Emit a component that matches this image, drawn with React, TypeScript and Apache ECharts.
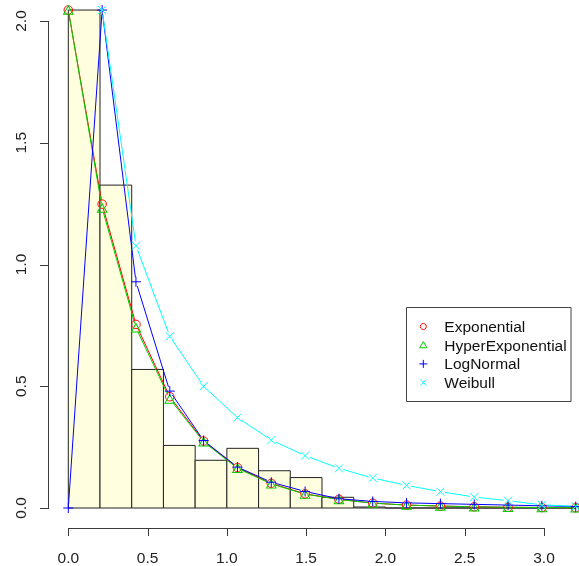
import React, { useEffect, useRef } from "react";
import * as echarts from "echarts";

// Histogram (density) bins of width 0.2
const binEdges = [0, 0.2, 0.4, 0.6, 0.8, 1.0, 1.2, 1.4, 1.6, 1.8, 2.0, 2.2, 2.4, 2.6, 2.8, 3.0, 3.2];
const binDensity = [2.045, 1.326, 0.569, 0.257, 0.196, 0.245, 0.153, 0.125, 0.044, 0.004, 0, 0, 0, 0, 0, 0];

// Fitted density curves evaluated at these x values
const xPoints = [0, 0.2133, 0.4267, 0.64, 0.8533, 1.0667, 1.28, 1.4933, 1.7067, 1.92, 2.1333, 2.3467, 2.56, 2.7733, 2.9867, 3.2];
const expDensity = [2.045, 1.248, 0.754, 0.457, 0.275, 0.166, 0.101, 0.058, 0.036, 0.02, 0.012, 0.008, 0.005, 0.003, 0.002, 0.001];
const hyperExpDensity = [2.045, 1.232, 0.74, 0.448, 0.272, 0.163, 0.099, 0.057, 0.035, 0.02, 0.012, 0.008, 0.005, 0.003, 0.002, 0.001];
const logNormalDensity = [0, 2.045, 0.929, 0.48, 0.277, 0.168, 0.106, 0.068, 0.038, 0.027, 0.021, 0.018, 0.015, 0.012, 0.009, 0.006];
const weibullDensity: (number | null)[] = [null, 2.045, 1.077, 0.705, 0.5, 0.371, 0.279, 0.215, 0.163, 0.123, 0.093, 0.067, 0.045, 0.03, 0.013, 0.007];

const seriesNames = ["Exponential", "HyperExponential", "LogNormal", "Weibull"];

const xTicks = { min: 0, max: 3, interval: 0.5 };
const yTicks = { min: 0, max: 2, interval: 0.5 };

const FONT = '"Liberation Sans", Arial, Helvetica, sans-serif';
const PLUS = "path://M5,0L5,10M0,5L10,5";
const CROSS = "path://M0,0L10,10M10,0L0,10";
const AXIS_COLOR = "#3a3a3a";
const AXIS_OFFSET = 20;
const TICK_LEN = 8;

const dists = [
  { name: seriesNames[0], values: expDensity as (number | null)[], color: "#FF0000", symbol: "circle", size: 8.5 },
  { name: seriesNames[1], values: hyperExpDensity as (number | null)[], color: "#00CD00", symbol: "triangle", size: [9.5, 8.5] },
  { name: seriesNames[2], values: logNormalDensity as (number | null)[], color: "#0000FF", symbol: PLUS, size: 10 },
  { name: seriesNames[3], values: weibullDensity, color: "#00FFFF", symbol: CROSS, size: 8 },
];

function makeAxis(ticks: { min: number; max: number; interval: number }, labelMargin: number, rotate: number) {
  return {
    type: "value",
    min: ticks.min,
    max: ticks.max,
    interval: ticks.interval,
    offset: AXIS_OFFSET,
    axisLine: { show: false, onZero: false },
    axisTick: { show: false },
    splitLine: { show: false },
    axisLabel: {
      fontSize: 15.5,
      fontFamily: FONT,
      color: "#222222",
      margin: labelMargin,
      rotate,
      formatter: (v: number) => v.toFixed(1),
    },
  };
}

function tickValues(t: { min: number; max: number; interval: number }) {
  const out: number[] = [];
  const n = Math.round((t.max - t.min) / t.interval);
  for (let i = 0; i <= n; i++) out.push(t.min + i * t.interval);
  return out;
}

// a 1px filled bar (used for axis lines and ticks)
function bar(x: number, y: number, w: number, h: number) {
  return {
    type: "rect",
    shape: { x, y, width: w, height: h },
    style: { fill: AXIS_COLOR, stroke: "none" },
  };
}

export default function App() {
  const ref = useRef<HTMLDivElement>(null);

  useEffect(() => {
    if (!ref.current) return;
    const chart = echarts.init(ref.current, undefined, { renderer: "svg" });

    const histData = binDensity.map((h, i) => [binEdges[i], binEdges[i + 1], h]);

    const GAP = 4.5;
    const segmentSeries = dists.map((d) => {
      const segs: number[][] = [];
      for (let i = 0; i < xPoints.length - 1; i++) {
        const a = d.values[i];
        const b = d.values[i + 1];
        if (a == null || b == null) continue;
        segs.push([xPoints[i], a, xPoints[i + 1], b]);
      }
      return {
        type: "custom",
        name: d.name + "-lines",
        silent: true,
        clip: false,
        data: segs,
        renderItem: (params: any, api: any) => {
          const p1 = api.coord([api.value(0), api.value(1)]);
          const p2 = api.coord([api.value(2), api.value(3)]);
          const dx = p2[0] - p1[0];
          const dy = p2[1] - p1[1];
          const len = Math.sqrt(dx * dx + dy * dy);
          if (len <= 2 * GAP) return { type: "group", children: [] };
          const ux = dx / len;
          const uy = dy / len;
          return {
            type: "line",
            shape: {
              x1: p1[0] + ux * GAP,
              y1: p1[1] + uy * GAP,
              x2: p2[0] - ux * GAP,
              y2: p2[1] - uy * GAP,
            },
            style: { stroke: d.color, lineWidth: 1, fill: "none" },
          };
        },
      };
    });

    const markerSeries = dists.map((d) => ({
      type: "scatter",
      name: d.name,
      silent: true,
      clip: false,
      symbol: d.symbol,
      symbolSize: d.size,
      itemStyle: { color: "none", borderColor: d.color, borderWidth: 1, opacity: 1 },
      data: xPoints
        .map((x, i) => [x, d.values[i]])
        .filter((p) => p[1] != null),
    }));

    // R-style axes (offset from the plot region) drawn as 1px filled bars through the chart's scales
    const xAxisDecor = {
      type: "custom",
      name: "x-axis-line",
      silent: true,
      clip: false,
      z: 10,
      data: tickValues(xTicks).map((v) => [v, yTicks.min]),
      renderItem: (params: any, api: any) => {
        const p = api.coord([api.value(0), api.value(1)]);
        const y = Math.round(p[1] + AXIS_OFFSET);
        const x = Math.round(p[0]);
        const children: any[] = [bar(x, y, 1, TICK_LEN)];
        if (params.dataIndex === 0) {
          const a = api.coord([xTicks.min, yTicks.min]);
          const b = api.coord([xTicks.max, yTicks.min]);
          children.push(bar(Math.round(a[0]), y, Math.round(b[0]) - Math.round(a[0]) + 1, 1));
        }
        return { type: "group", children };
      },
    };

    const yAxisDecor = {
      type: "custom",
      name: "y-axis-line",
      silent: true,
      clip: false,
      z: 10,
      data: tickValues(yTicks).map((v) => [xTicks.min, v]),
      renderItem: (params: any, api: any) => {
        const p = api.coord([api.value(0), api.value(1)]);
        const x = Math.round(p[0] - AXIS_OFFSET);
        const y = Math.round(p[1]);
        const children: any[] = [bar(x - TICK_LEN, y, TICK_LEN + 1, 1)];
        if (params.dataIndex === 0) {
          const a = api.coord([xTicks.min, yTicks.min]);
          const b = api.coord([xTicks.min, yTicks.max]);
          const top = Math.round(b[1]);
          children.push(bar(x, top, 1, Math.round(a[1]) - top + 1));
        }
        return { type: "group", children };
      },
    };

    const lx = 423.3;
    const rows = [326.5, 345.2, 363.9, 382.6];
    const tx = 444.3;

    const legendGraphics: any[] = [
      {
        type: "rect",
        shape: { x: 406.5, y: 307.5, width: 164.5, height: 94 },
        style: { fill: "#ffffff", stroke: "#444444", lineWidth: 1 },
        z: 100,
      },
      {
        type: "circle",
        shape: { cx: lx, cy: rows[0], r: 3 },
        style: { fill: "none", stroke: dists[0].color, lineWidth: 1 },
        z: 101,
      },
      {
        type: "polygon",
        shape: { points: [[lx, rows[1] - 3.6], [lx - 3.6, rows[1] + 2.6], [lx + 3.6, rows[1] + 2.6]] },
        style: { fill: "none", stroke: dists[1].color, lineWidth: 1 },
        z: 101,
      },
      {
        type: "line",
        shape: { x1: lx - 4, y1: rows[2], x2: lx + 4, y2: rows[2] },
        style: { stroke: dists[2].color, lineWidth: 1 },
        z: 101,
      },
      {
        type: "line",
        shape: { x1: lx, y1: rows[2] - 4, x2: lx, y2: rows[2] + 4 },
        style: { stroke: dists[2].color, lineWidth: 1 },
        z: 101,
      },
      {
        type: "line",
        shape: { x1: lx - 3, y1: rows[3] - 3, x2: lx + 3, y2: rows[3] + 3 },
        style: { stroke: dists[3].color, lineWidth: 1 },
        z: 101,
      },
      {
        type: "line",
        shape: { x1: lx + 3, y1: rows[3] - 3, x2: lx - 3, y2: rows[3] + 3 },
        style: { stroke: dists[3].color, lineWidth: 1 },
        z: 101,
      },
      ...seriesNames.map((n, i) => ({
        type: "text",
        x: tx,
        y: rows[i],
        z: 101,
        style: {
          text: n,
          fill: "#111111",
          fontSize: 15.5,
          fontFamily: FONT,
          align: "left",
          verticalAlign: "middle",
        },
      })),
    ];

    chart.setOption({
      animation: false,
      grid: { left: 68.3, top: 21, width: 475.7, height: 487, containLabel: false },
      xAxis: makeAxis(xTicks, 21, 0),
      yAxis: makeAxis(yTicks, 20, 90),
      series: [
        {
          type: "custom",
          name: "histogram",
          silent: true,
          clip: false,
          data: histData,
          renderItem: (params: any, api: any) => {
            const p0 = api.coord([api.value(0), api.value(2)]);
            const p1 = api.coord([api.value(1), 0]);
            return {
              type: "rect",
              shape: { x: p0[0], y: p0[1], width: p1[0] - p0[0], height: p1[1] - p0[1] },
              style: { fill: "#FFFFE0", stroke: "#222222", lineWidth: 1 },
            };
          },
        },
        ...segmentSeries,
        ...markerSeries,
        xAxisDecor,
        yAxisDecor,
      ],
      graphic: legendGraphics,
    });

    return () => {
      chart.dispose();
    };
  }, []);

  return (
    <div
      ref={ref}
      style={{ position: "fixed", left: 0, top: 0, width: 579, height: 566 }}
    />
  );
}
